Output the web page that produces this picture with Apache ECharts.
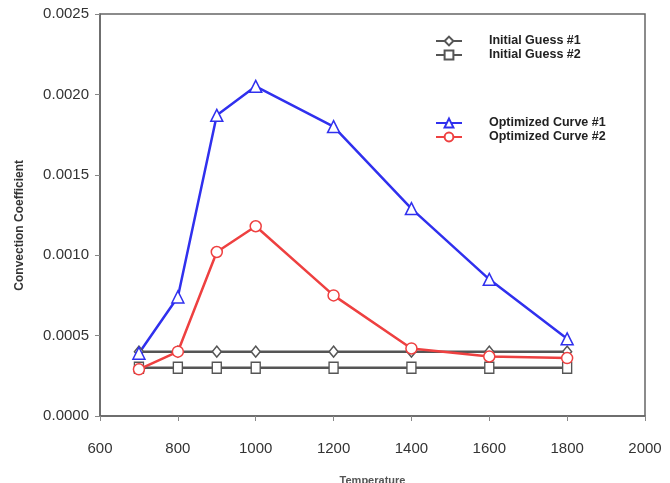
<!DOCTYPE html>
<html><head><meta charset="utf-8">
<script src="https://cdn.jsdelivr.net/npm/echarts@6/dist/echarts.min.js"></script>
<style>html,body{margin:0;padding:0;background:#fff}#c{width:670px;height:483px}</style>
</head><body><div id="c"></div>
<script>
const temps = [700, 800, 900, 1000, 1200, 1400, 1600, 1800];
const initial1 = [0.0004, 0.0004, 0.0004, 0.0004, 0.0004, 0.0004, 0.0004, 0.0004];
const initial2 = [0.0003, 0.0003, 0.0003, 0.0003, 0.0003, 0.0003, 0.0003, 0.0003];
const optimized1 = [0.00039, 0.00074, 0.00187, 0.00205, 0.00180, 0.00129, 0.00085, 0.00048];
const optimized2 = [0.00029, 0.00040, 0.00102, 0.00118, 0.00075, 0.00042, 0.00037, 0.00036];
const names = ['Initial Guess #1', 'Initial Guess #2', 'Optimized Curve #1', 'Optimized Curve #2'];
const xLabel = 'Temperature';
const yLabel = 'Convection Coefficient';

const pairs = arr => temps.map((t, i) => [t, arr[i]]);
const chart = echarts.init(document.getElementById('c'));
const mk = (name, data, color, symbol, size) => ({
  name, type: 'line', data: pairs(data), symbol, symbolSize: size,
  showAllSymbol: true,
  lineStyle: { color, width: 2.5 },
  itemStyle: { color: '#fff', borderColor: color, borderWidth: 1.5 },
  emphasis: { disabled: true }, animation: false
});
const legendText = { fontFamily: 'Liberation Sans', fontSize: 12.5, fontWeight: 'bold', color: '#222', padding: [0, 0, 0, 22], lineHeight: 14 };
const legendBase = { orient: 'vertical', left: 435, padding: 0, itemGap: 0, itemWidth: 26, itemHeight: 11, textStyle: legendText };
chart.setOption({
  animation: false,
  grid: { left: 100, right: 25, top: 14, bottom: 67, containLabel: false, outerBoundsMode: 'none', show: true, borderColor: '#666', borderWidth: 1.5 },
  legend: [
    Object.assign({ data: [names[0], names[1]], top: 34 }, legendBase),
    Object.assign({ data: [names[2], names[3]], top: 116 }, legendBase)
  ],
  graphic: [{
    type: 'text', left: 14, top: 160, rotation: Math.PI / 2,
    style: { text: yLabel, font: 'bold 12px "Liberation Sans"', fill: '#333' }
  }],
  xAxis: {
    type: 'value', min: 600, max: 2000, interval: 200,
    name: xLabel, nameLocation: 'middle', nameGap: 59,
    nameTextStyle: { fontFamily: 'Liberation Sans', fontSize: 11, fontWeight: 'bold', color: '#555' },
    axisLine: { show: true, lineStyle: { color: '#666', width: 1.5 } },
    axisTick: { show: true, inside: false, length: 5, lineStyle: { color: '#888' } },
    splitLine: { show: false },
    axisLabel: { fontFamily: 'Liberation Sans', fontSize: 15, color: '#333', margin: 25, formatter: v => String(v) }
  },
  yAxis: {
    type: 'value', min: 0, max: 0.0025, interval: 0.0005,
    axisLine: { show: true, lineStyle: { color: '#666', width: 1.5 } },
    axisTick: { show: true, inside: false, length: 5, lineStyle: { color: '#888' } },
    splitLine: { show: false },
    axisLabel: { fontFamily: 'Liberation Sans', fontSize: 15, color: '#333', margin: 11, formatter: v => v.toFixed(4) }
  },
  series: [
    mk(names[0], initial1, '#555', 'diamond', [9, 11]),
    mk(names[1], initial2, '#555', 'rect', [9, 11]),
    mk(names[2], optimized1, '#3030ee', 'triangle', 12),
    mk(names[3], optimized2, '#ee4040', 'circle', 11)
  ]
});
</script></body></html>
